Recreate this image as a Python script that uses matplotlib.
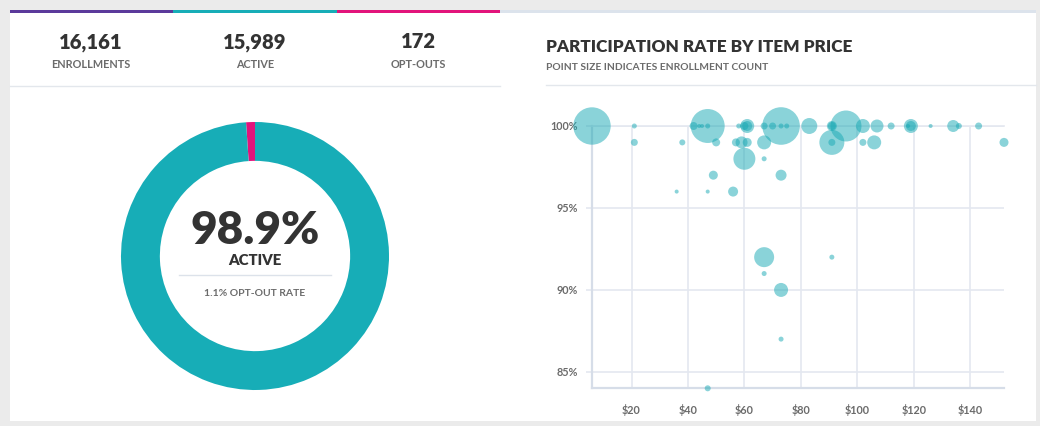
import matplotlib
matplotlib.use("Agg")
from matplotlib import pyplot as plt
from matplotlib.patches import Rectangle
from matplotlib.ticker import FuncFormatter

plt.rcParams['font.family'] = ['Lato', 'DejaVu Sans']

# KPI data
kpi_values = [16161, 15989, 172]
kpi_labels = ['ENROLLMENTS', 'ACTIVE', 'OPT-OUTS']
donut_values = [172, 15989]  # opt-outs, active

# scatter data: item price, participation rate (%), enrollment count
prices = [6, 21, 42, 44, 45, 47, 47, 58, 61, 61, 60, 67, 70, 73, 73, 75, 83, 91, 91,
          96, 102, 107, 112, 119, 119, 118, 126, 134, 136, 143,
          21, 38, 50, 57, 59, 61, 67, 91, 91, 102, 106, 152,
          60, 67, 49, 73, 36, 47, 56, 67, 91, 67, 73, 73, 47]
rates = [100] * 30 + [99] * 12 + [98, 98, 97, 97, 96, 96, 96, 92, 92, 91, 90, 87, 84]
enrollments = [2520, 45, 115, 29, 29, 2080, 45, 45, 353, 180, 115, 88, 88, 2545, 45, 45, 461, 180, 115,
               1730, 353, 304, 88, 353, 180, 29, 29, 259, 65, 88,
               88, 65, 115, 115, 259, 146, 353, 1125, 88, 88, 353, 146,
               870, 45, 146, 218, 29, 29, 180, 720, 45, 45, 353, 45, 65]

W, H = 1040, 426
TEAL = '#17ADB7'
PINK = '#E2147B'
PURPLE = '#5B3A9B'
DARK = '#333333'
GRAY = '#6b6b6b'
GRID = '#E4E8F0'


def fx(px):
    return px / W


def fy(py):
    return 1 - py / H


fig = plt.figure(figsize=(W / 100, H / 100), dpi=100)
fig.patch.set_facecolor('#EBEBEB')

# white card and top strips
fig.add_artist(Rectangle((fx(10), fy(421)), fx(1036) - fx(10), fy(10) - fy(421),
                         transform=fig.transFigure, facecolor='white', edgecolor='none', zorder=-2))
strips = [(10, 173, PURPLE), (173, 337, TEAL), (337, 500, PINK), (500, 1036, '#DCE3EC')]
for x0, x1, c in strips:
    fig.add_artist(Rectangle((fx(x0), fy(13)), fx(x1) - fx(x0), fy(9.5) - fy(13),
                             transform=fig.transFigure, facecolor=c, edgecolor='none', zorder=-1))

# dividers
fig.add_artist(plt.Line2D([fx(10), fx(500)], [fy(86), fy(86)], color='#E3E7EC', lw=1, zorder=-1))
fig.add_artist(plt.Line2D([fx(546), fx(1036)], [fy(85), fy(85)], color='#E3E7EC', lw=1, zorder=-1))

# KPIs
for cx, val, lab in zip([91, 255, 418], kpi_values, kpi_labels):
    fig.text(fx(cx), fy(42), f'{val:,}', ha='center', va='center', fontsize=14.5,
             fontweight='heavy', color=DARK)
    fig.text(fx(cx), fy(65), lab, ha='center', va='center', fontsize=7.8,
             fontweight='bold', color=GRAY)

# donut
r = 134
ax_d = fig.add_axes([fx(255 - r), fy(256 + r), 2 * r / W, 2 * r / H])
ax_d.pie(donut_values, colors=[PINK, TEAL], startangle=90, counterclock=True,
         radius=1, wedgeprops=dict(width=0.29, edgecolor='none'))
ax_d.set_aspect('equal')
ax_d.set_xlim(-1, 1)
ax_d.set_ylim(-1, 1)

active_pct = donut_values[1] / sum(donut_values) * 100
opt_pct = donut_values[0] / sum(donut_values) * 100
ax_d.text(0, 0.19, f'{active_pct:.1f}%', ha='center', va='center', fontsize=33,
          fontweight='heavy', color=DARK)
ax_d.text(0, -0.03, 'ACTIVE', ha='center', va='center', fontsize=10.8,
          fontweight='heavy', color=DARK)
ax_d.plot([-0.57, 0.57], [-0.14, -0.14], color='#DCE2EA', lw=1)
ax_d.text(0, -0.28, f'{opt_pct:.1f}% OPT-OUT RATE', ha='center', va='center', fontsize=7.5,
          fontweight='bold', color=GRAY)

# titles right
fig.text(fx(546), fy(47), 'PARTICIPATION RATE BY ITEM PRICE', ha='left', va='center',
         fontsize=12.3, fontweight='heavy', color=DARK)
fig.text(fx(546), fy(67), 'POINT SIZE INDICATES ENROLLMENT COUNT', ha='left', va='center',
         fontsize=7.4, fontweight='bold', color=GRAY)

# scatter
ax = fig.add_axes([fx(592), fy(388.3), fx(1004) - fx(592), fy(126) - fy(388.3)])
ax.scatter(prices, rates, s=[e * 0.2875 for e in enrollments], color='#17A9B4',
           alpha=0.5, edgecolors='none', clip_on=False, zorder=3)
ax.set_xlim(6, 152)
ax.set_ylim(84, 100)
ax.set_xticks([20, 40, 60, 80, 100, 120, 140])
ax.set_yticks([85, 90, 95, 100])
ax.xaxis.set_major_formatter(FuncFormatter(lambda v, p: f'${v:.0f}'))
ax.yaxis.set_major_formatter(FuncFormatter(lambda v, p: f'{v:.0f}%'))
ax.grid(True, color=GRID, lw=1.2, zorder=0)
ax.set_axisbelow(True)
ax.spines['right'].set_visible(False)
ax.spines['top'].set_color(GRID)
ax.spines['top'].set_linewidth(1.2)
for side in ['left', 'bottom']:
    ax.spines[side].set_color('#D6DDE8')
    ax.spines[side].set_linewidth(1.6)
ax.tick_params(axis='x', length=0, pad=11, labelsize=7.8, labelcolor=GRAY)
ax.tick_params(axis='y', length=4, width=1.2, color=GRID, pad=6, labelsize=7.8, labelcolor=GRAY)
for lab in ax.get_xticklabels() + ax.get_yticklabels():
    lab.set_fontweight('bold')

fig.savefig('out.png', dpi=100, facecolor=fig.get_facecolor())
